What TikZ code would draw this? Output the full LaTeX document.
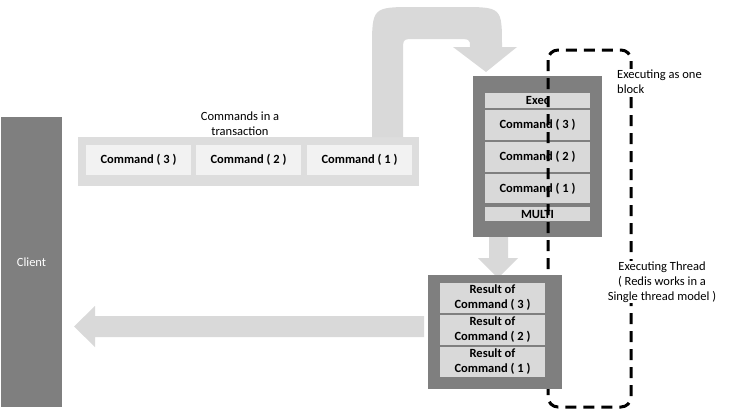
\documentclass[tikz,border=0pt]{standalone}
\usepackage{fontspec}
\setmainfont{Carlito}
\definecolor{boxgray}{HTML}{7F7F7F}
\definecolor{arrowgray}{HTML}{D9D9D9}
\definecolor{stripegray}{HTML}{D9D9D9}
\definecolor{cellgray}{HTML}{F2F2F2}
\definecolor{traygray}{HTML}{DDDDDD}
\newcommand\diafont{\fontsize{12.5}{15}\selectfont}

\tikzset{
  box/.style={fill=boxgray, inner sep=0pt},
  tray/.style={fill=traygray, inner sep=0pt, minimum width=341pt, minimum height=49pt},
  cell/.style={fill=cellgray, inner sep=0pt, minimum width=105pt, minimum height=30pt, font=\diafont\bfseries},
  stripe/.style={fill=stripegray, inner sep=0pt, minimum width=105pt, font=\diafont\bfseries, align=center},
  note/.style={fill=white, inner sep=1pt, align=center},
  fatarrow/.style={fill=arrowgray}
}

\begin{document}
\begin{tikzpicture}[x=1pt, y=-1pt, font=\diafont]
\useasboundingbox (0,0) rectangle (737,418);

% client side
\node [box, minimum width=61pt, minimum height=290pt, text=white] (client) at (31.5,262) {Client};

% commands queued on the client
\node [tray] (tray) at (248.5,161.5) {};
\node [cell] (tc3) at (138.5,160) {Command ( 3 )};
\node [cell] (tc2) at (248.5,160) {Command ( 2 )};
\node [cell] (tc1) at (359.5,160) {Command ( 1 )};
\node [note] (traylabel) at (240,123.5) {Commands in a\\transaction};

% curved arrow into the server
\fill [fatarrow] (372,137) -- (372,50) .. controls (372,7) .. (415,7) -- (460,7)
  .. controls (502,7) .. (502,47) -- (517,47) -- (486,72) -- (453,47) -- (470,47)
  .. controls (470,39) .. (455,39) -- (415,39) .. controls (403,39) .. (403,51) -- (403,137) -- cycle;

% block executed by the server
\node [box, minimum width=129pt, minimum height=161pt] (block) at (537.5,156.5) {};
\node [stripe, minimum height=15pt] (exec) at (537.5,100.5) {Exec};
\node [stripe, minimum height=30pt] (bc3) at (537.5,125) {Command ( 3 )};
\node [stripe, minimum height=30pt] (bc2) at (537.5,157) {Command ( 2 )};
\node [stripe, minimum height=29pt] (bc1) at (537.5,188.5) {Command ( 1 )};
\node [stripe, minimum height=14pt] (multi) at (537.5,214) {MULTI};

% executing thread
\draw [line width=3pt, rounded corners=10pt, dash pattern=on 11pt off 7pt] (548,50) rectangle (631,407);
\node [note, anchor=west, align=left] (onelabel) at (616,81.5) {Executing as one\\block};
\node [note] (threadlabel) at (662,282) {Executing Thread\\( Redis works in a\\Single thread model )};

% results
\fill [fatarrow] (489,237) -- (489,258) -- (478,258) -- (498,278) -- (518,258) -- (508,258) -- (508,237) -- cycle;
\node [box, minimum width=134pt, minimum height=114pt] (results) at (495,332) {};
\node [stripe, minimum height=30pt] (r3) at (492.5,298) {Result of\\Command ( 3 )};
\node [stripe, minimum height=30pt] (r2) at (492.5,330) {Result of\\Command ( 2 )};
\node [stripe, minimum height=30pt] (r1) at (492.5,362) {Result of\\Command ( 1 )};

% back to the client
\fill [fatarrow] (424,316) -- (95,316) -- (95,306) -- (74,326.5) -- (95,347) -- (95,337) -- (424,337) -- cycle;
\end{tikzpicture}
\end{document}
